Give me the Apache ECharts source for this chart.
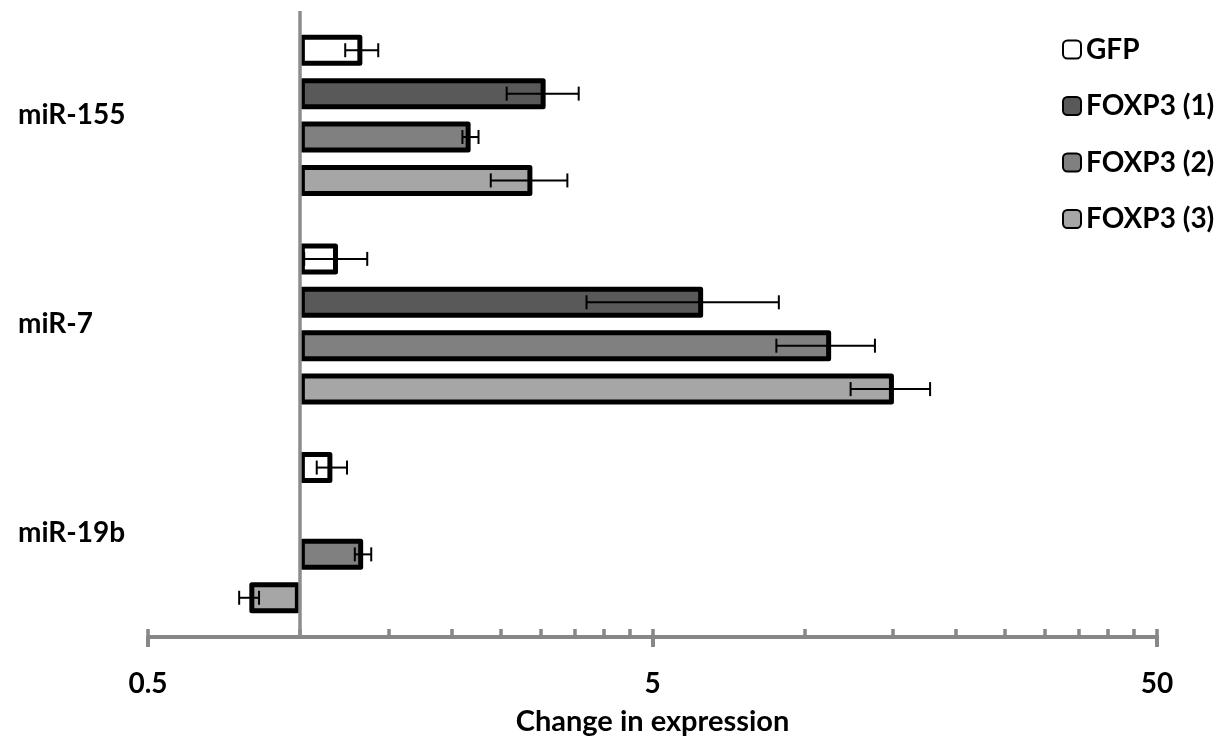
<!DOCTYPE html>
<html><head><meta charset="utf-8">
<script src="https://cdn.jsdelivr.net/npm/echarts@6/dist/echarts.min.js"></script>
<style>html,body{margin:0;padding:0;background:#fff}#c{width:1231px;height:744px}</style>
</head><body><div id="c"></div>
<script>
// ---- data ----
const categories = ['miR-155', 'miR-7', 'miR-19b'];
const seriesNames = ['GFP', 'FOXP3 (1)', 'FOXP3 (2)', 'FOXP3 (3)'];
const gfp      = [1.33, 1.19, 1.16];
const foxp3_1  = [3.07, 6.30, null];
const foxp3_2  = [2.18, 11.3, 1.335];
const foxp3_3  = [2.89, 15.05, 0.794];
const gfpErr     = [0.10, 0.17, 0.08];
const foxp3_1Err = [0.50, 2.60, null];
const foxp3_2Err = [0.08, 2.50, 0.05];
const foxp3_3Err = [0.50, 2.70, 0.036];
const majorTicks = [0.5, 5, 50];
const minorTicks = [0.5, 1, 1.5, 2, 2.5, 3, 3.5, 4, 4.5, 5, 10, 15, 20, 25, 30, 35, 40, 45, 50];
const axisTitle = 'Change in expression';

// ---- styling ----
const FONT = 'Lato';
const colors = ['#ffffff', '#595959', '#808080', '#a6a6a6'];
const BAR_W = 31;
const BAR_GAP = 0.4;
const PITCH = BAR_W * (1 + BAR_GAP);
const AXIS_GREY = '#878787';

const values = [gfp, foxp3_1, foxp3_2, foxp3_3];
const errs = [gfpErr, foxp3_1Err, foxp3_2Err, foxp3_3Err];
const lg = v => (v == null ? null : Math.log10(v));

const barSeries = seriesNames.map((name, s) => ({
  name, type: 'bar',
  data: values[s].map(lg),
  barWidth: BAR_W, barGap: (BAR_GAP * 100) + '%',
  itemStyle: { color: colors[s], borderColor: '#000', borderWidth: 5, borderJoin: 'round' },
  z: 2
}));
barSeries[0].markLine = {
  silent: true, symbol: ['none', 'none'], label: { show: false },
  lineStyle: { color: '#8c8c8c', width: 3.5, type: 'solid' },
  data: [{ xAxis: 0 }], z: 5, animation: false
};

const errData = [];
values.forEach((arr, s) => arr.forEach((v, c) => {
  const e = errs[s][c];
  if (v != null && e != null) errData.push([c, s, lg(v - e), lg(v + e)]);
}));

const errSeries = {
  type: 'custom', name: 'err', z: 10,
  encode: { x: [2, 3], y: 0 },
  data: errData,
  renderItem(params, api) {
    const c = api.value(0), s = api.value(1);
    const p0 = api.coord([api.value(2), c]);
    const p1 = api.coord([api.value(3), c]);
    const y = p0[1] + (s - 1.5) * PITCH;
    const h = 7;
    const st = { stroke: '#000', lineWidth: 2 };
    return { type: 'group', children: [
      { type: 'line', shape: { x1: p0[0], y1: y, x2: p1[0], y2: y }, style: st },
      { type: 'line', shape: { x1: p0[0], y1: y - h, x2: p0[0], y2: y + h }, style: st },
      { type: 'line', shape: { x1: p1[0], y1: y - h, x2: p1[0], y2: y + h }, style: st }
    ]};
  }
};

const LMIN = Math.log10(majorTicks[0]);
const LMAX = Math.log10(majorTicks[majorTicks.length - 1]);
const fmt = v => String(Math.round(Math.pow(10, v) * 10) / 10);

const chart = echarts.init(document.getElementById('c'), null, { renderer: 'canvas' });
chart.setOption({
  animation: false,
  backgroundColor: '#fff',
  grid: { left: 148, right: 74, top: 11, bottom: 107, containLabel: false, outerBoundsMode: 'none' },
  legend: {
    data: seriesNames, orient: 'vertical', left: 1057, top: 29,
    itemWidth: 18, itemHeight: 18, itemGap: 25.5,
    textStyle: { fontFamily: FONT, fontWeight: 'bold', fontSize: 28, color: '#000', lineHeight: 31 },
    selectedMode: false
  },
  xAxis: [{
    type: 'value', min: LMIN, max: LMAX, interval: 1,
    axisLine: { show: true, onZero: false, lineStyle: { color: AXIS_GREY, width: 4 } },
    axisTick: { show: true, inside: true, length: 8, customValues: minorTicks.map(Math.log10),
      lineStyle: { color: AXIS_GREY, width: 3.5 } },
    axisLabel: { customValues: majorTicks.map(Math.log10), formatter: fmt, margin: 33,
      fontFamily: FONT, fontWeight: 'bold', fontSize: 28, color: '#000' },
    splitLine: { show: false },
    name: axisTitle, nameLocation: 'middle', nameGap: 70,
    nameTextStyle: { fontFamily: FONT, fontWeight: 'bold', fontSize: 29, color: '#000' }
  }, {
    type: 'value', min: LMIN, max: LMAX, interval: 1, position: 'bottom', offset: 0,
    axisLine: { show: false, onZero: false },
    axisTick: { show: true, inside: false, length: 10, customValues: majorTicks.map(Math.log10),
      lineStyle: { color: AXIS_GREY, width: 4 } },
    axisLabel: { show: false }, splitLine: { show: false }
  }],
  yAxis: {
    type: 'category', data: categories, inverse: true,
    axisLine: { show: false }, axisTick: { show: false },
    axisLabel: { align: 'left', margin: 130, fontFamily: FONT, fontWeight: 'bold', fontSize: 28, color: '#000' }
  },
  series: [...barSeries, errSeries]
});
</script></body></html>
